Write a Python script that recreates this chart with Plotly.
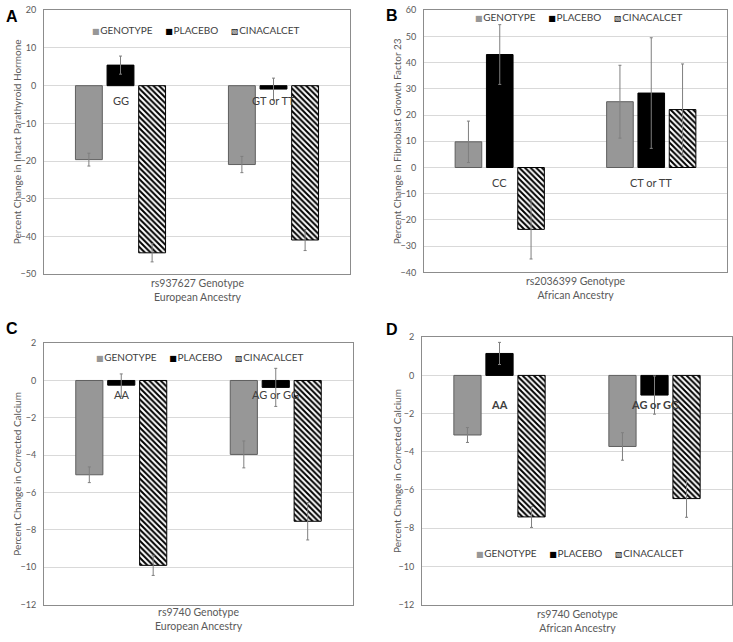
import plotly.graph_objects as go

# ---------------- data ----------------
series_names = ["GENOTYPE", "PLACEBO", "CINACALCET"]

cat_A = ["GG", "GT or TT"]
genotype_A = [-19.6, -20.9]
genotype_A_err = [1.7, 2.15]
placebo_A = [5.45, -0.9]
placebo_A_err = [2.4, 2.9]
cinacalcet_A = [-44.3, -40.9]
cinacalcet_A_err = [2.4, 2.8]

cat_B = ["CC", "CT or TT"]
genotype_B = [9.8, 25.1]
genotype_B_err = [7.9, 13.9]
placebo_B = [43.1, 28.4]
placebo_B_err = [11.4, 21.1]
cinacalcet_B = [-23.6, 22.1]
cinacalcet_B_err = [11.3, 17.4]

cat_C = ["AA", "AG or GG"]
genotype_C = [-5.05, -3.96]
genotype_C_err = [0.42, 0.72]
placebo_C = [-0.25, -0.37]
placebo_C_err = [0.6, 1.02]
cinacalcet_C = [-9.9, -7.54]
cinacalcet_C_err = [0.54, 1.0]

cat_D = ["AA", "AG or GG"]
genotype_D = [-3.12, -3.72]
genotype_D_err = [0.39, 0.72]
placebo_D = [1.15, -1.03]
placebo_D_err = [0.58, 1.0]
cinacalcet_D = [-7.41, -6.45]
cinacalcet_D_err = [0.55, 0.98]

ytitle_A = "Percent Change in Intact Parathyroid Hormone"
ytitle_B = "Percent Change in Fibroblast Growth Factor 23"
ytitle_C = "Percent Change in Corrected Calcium"
ytitle_D = "Percent Change in Corrected Calcium"
xtitle_A = "rs937627 Genotype<br>European Ancestry"
xtitle_B = "rs2036399 Genotype<br>African Ancestry"
xtitle_C = "rs9740 Genotype<br>European Ancestry"
xtitle_D = "rs9740 Genotype<br>African Ancestry"

yrange_A = [-50, 20]
yrange_B = [-40, 60]
yrange_C = [-12, 2]
yrange_D = [-12, 2]
ydtick_A, ydtick_B, ydtick_C, ydtick_D = 10, 10, 2, 2

# ---------------- styling ----------------
FONT = "Lato, 'Open Sans', sans-serif"
TXT = "#595959"
GRID = "#d9d9d9"
FRAME = "#8c8c8c"
GRAY = "#979797"
ERR = "#7f7f7f"
SERIES_SYMBOL = ["■", "■", "▧"]
SERIES_SYMBOL_COLOR = [GRAY, "black", "black"]

panels = [
    dict(key="A", cats=cat_A, vals=[genotype_A, placebo_A, cinacalcet_A],
         errs=[genotype_A_err, placebo_A_err, cinacalcet_A_err],
         yr=yrange_A, dt=ydtick_A, yt=ytitle_A, xt=xtitle_A,
         dom_x=[44, 350], dom_y=[4.3, 273], legend_xy=(196, 24),
         ytitle_x=17, xtitle_y=289, cat_shift=-15, cat_bold=False,
         letter_xy=(4, 11)),
    dict(key="B", cats=cat_B, vals=[genotype_B, placebo_B, cinacalcet_B],
         errs=[genotype_B_err, placebo_B_err, cinacalcet_B_err],
         yr=yrange_B, dt=ydtick_B, yt=ytitle_B, xt=xtitle_B,
         dom_x=[424, 727], dom_y=[4.3, 271], legend_xy=(579, 11),
         ytitle_x=397, xtitle_y=287, cat_shift=-15, cat_bold=False,
         letter_xy=(384, 10)),
    dict(key="C", cats=cat_C, vals=[genotype_C, placebo_C, cinacalcet_C],
         errs=[genotype_C_err, placebo_C_err, cinacalcet_C_err],
         yr=yrange_C, dt=ydtick_C, yt=ytitle_C, xt=xtitle_C,
         dom_x=[44, 353], dom_y=[343, 609], legend_xy=(200, 357),
         ytitle_x=17, xtitle_y=624, cat_shift=-14, cat_bold=False,
         letter_xy=(4, 328)),
    dict(key="D", cats=cat_D, vals=[genotype_D, placebo_D, cinacalcet_D],
         errs=[genotype_D_err, placebo_D_err, cinacalcet_D_err],
         yr=yrange_D, dt=ydtick_D, yt=ytitle_D, xt=xtitle_D,
         dom_x=[422, 732], dom_y=[337, 609], legend_xy=(580, 557),
         ytitle_x=397, xtitle_y=626, cat_shift=-29, cat_bold=True,
         letter_xy=(384, 329)),
]

W, H = 733, 642
def px(x):
    return x / W
def py(y):
    return 1 - y / H

fig = go.Figure()
layout = dict(
    width=W, height=H, margin=dict(l=0, r=0, t=0, b=0),
    paper_bgcolor="white", plot_bgcolor="white",
    barmode="group", bargap=0.38, bargroupgap=0.15,
    font=dict(family=FONT, color=TXT, size=11),
    showlegend=False,
    annotations=[],
)

# legend text built from the series names
NB = "\u00a0"
HAIR = "\u200a"
legend_parts = []
for sym, col, name in zip(SERIES_SYMBOL, SERIES_SYMBOL_COLOR, series_names):
    legend_parts.append(
        "<span style=\"color:%s;font-family:'DejaVu Sans';font-size:8px\">%s</span>%s%s"
        % (col, sym, HAIR, name))
legend_text = (NB * 5).join(legend_parts)

for i, p in enumerate(panels):
    n = "" if i == 0 else str(i + 1)
    xa, ya = "x" + n, "y" + n
    for j, name in enumerate(series_names):
        if j == 0:
            marker = dict(color=GRAY, line=dict(color="#5f5f5f", width=1))
        elif j == 1:
            marker = dict(color="black", line=dict(color="black", width=1))
        else:
            marker = dict(color="white", line=dict(color="black", width=1),
                          pattern=dict(shape="\\", fgcolor="black", bgcolor="white",
                                       size=4, solidity=0.5, fillmode="replace"))
        fig.add_trace(go.Bar(
            x=p["cats"], y=p["vals"][j], name=name, marker=marker,
            error_y=dict(type="data", array=p["errs"][j], symmetric=True,
                         color=ERR, thickness=1, width=1.5),
            xaxis=xa, yaxis=ya,
        ))
    x0, x1 = p["dom_x"]
    y0, y1 = p["dom_y"]
    layout["xaxis" + n] = dict(
        domain=[px(x0), px(x1)], anchor=ya, showticklabels=False, ticks="",
        showline=True, linecolor=FRAME, linewidth=1, mirror=True,
        showgrid=False, zeroline=False, fixedrange=True,
    )
    layout["yaxis" + n] = dict(
        domain=[py(y1), py(y0)], anchor=xa, range=p["yr"], dtick=p["dt"],
        tick0=p["yr"][0], showline=True, linecolor=FRAME, linewidth=1, mirror=True,
        showgrid=True, gridcolor=GRID, gridwidth=1, zeroline=False,
        ticks="outside", ticklen=5, tickcolor="rgba(0,0,0,0)",
        tickfont=dict(size=9, color=TXT, family=FONT), fixedrange=True,
    )
    # legend (text row)
    lx, ly = p["legend_xy"]
    layout["annotations"].append(dict(
        x=px(lx), y=py(ly), xref="paper", yref="paper", text=legend_text,
        showarrow=False, xanchor="center", yanchor="middle",
        font=dict(size=10, color="#404040", family=FONT),
    ))
    # category labels near zero line
    for c in p["cats"]:
        txt = "<b>%s</b>" % c if p["cat_bold"] else c
        layout["annotations"].append(dict(
            x=c, y=0, xref=xa, yref=ya, text=txt, showarrow=False,
            yanchor="middle", yshift=p["cat_shift"],
            font=dict(size=11, color="#404040", family=FONT),
        ))
    # y title
    layout["annotations"].append(dict(
        x=px(p["ytitle_x"]), y=py((y0 + y1) / 2), xref="paper", yref="paper",
        text=p["yt"], textangle=-90, showarrow=False,
        xanchor="center", yanchor="middle",
        font=dict(size=10, color=TXT, family=FONT),
    ))
    # x title
    layout["annotations"].append(dict(
        x=px((x0 + x1) / 2), y=py(p["xtitle_y"]), xref="paper", yref="paper",
        text=p["xt"], showarrow=False, xanchor="center", yanchor="middle",
        font=dict(size=10.5, color=TXT, family=FONT),
    ))
    # panel letter
    lxx, lyy = p["letter_xy"]
    layout["annotations"].append(dict(
        x=px(lxx), y=py(lyy), xref="paper", yref="paper",
        text="<b>%s</b>" % p["key"], showarrow=False, xanchor="left", yanchor="middle",
        font=dict(size=16, color="black", family="Liberation Sans, Arial, sans-serif"),
    ))

fig.update_layout(**layout)
fig.write_html("out.html", config={"displayModeBar": False},
               post_script="document.body.style.margin='0px';")
